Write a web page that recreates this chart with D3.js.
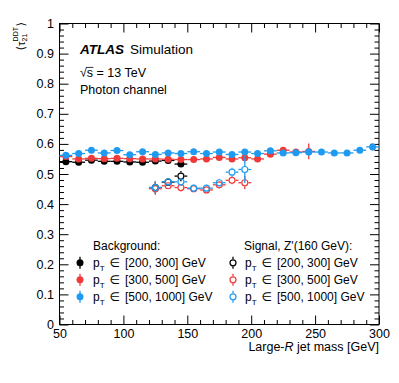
<!DOCTYPE html>
<html><head><meta charset="utf-8">
<script src="https://cdn.jsdelivr.net/npm/d3@7"></script>
<style>
html,body{margin:0;padding:0;background:#fff;}
text{font-family:"Liberation Sans","Arimo","DejaVu Sans",sans-serif;}
</style></head>
<body>
<svg id="c" width="399" height="383"></svg>
<script>
// ---------------- data ----------------
const bkgLowX  = [55,65,75,85,95,105,115,125,135,145];
const bkgLow   = [0.541,0.539,0.546,0.542,0.542,0.540,0.539,0.543,0.545,0.533];
const bkgLowE  = [0.003,0.003,0.003,0.003,0.003,0.003,0.003,0.003,0.003,0.006];

const bkgMidX  = [55,65,75,85,95,105,115,125,135,145,155,165,175,185,195,205,215,225,235,245];
const bkgMid   = [0.558,0.550,0.552,0.551,0.552,0.551,0.550,0.550,0.549,0.548,0.548,0.550,0.555,0.550,0.554,0.550,0.566,0.579,0.573,0.575];
const bkgMidE  = [0.003,0.003,0.003,0.003,0.003,0.003,0.003,0.003,0.003,0.003,0.003,0.003,0.003,0.003,0.004,0.004,0.006,0.011,0.008,0.026];

const bkgHighX = [55,65,75,85,95,105,115,125,135,145,155,165,175,185,195,205,215,225,235,245,255,265,275,285,295];
const bkgHigh  = [0.562,0.568,0.579,0.570,0.578,0.564,0.574,0.565,0.570,0.568,0.574,0.568,0.573,0.565,0.573,0.568,0.577,0.570,0.571,0.573,0.573,0.570,0.570,0.579,0.590];
const bkgHighE = [0.003,0.003,0.003,0.003,0.003,0.003,0.003,0.003,0.003,0.003,0.003,0.003,0.003,0.003,0.003,0.003,0.004,0.004,0.005,0.012,0.005,0.005,0.005,0.006,0.012];

const sigLowX  = [125,135,145];
const sigLow   = [0.455,0.473,0.493];
const sigLowE  = [0.020,0.013,0.017];

const sigMidX  = [125,135,145,155,165,175,185,195];
const sigMid   = [0.451,0.461,0.455,0.451,0.447,0.464,0.479,0.471];
const sigMidE  = [0.020,0.012,0.012,0.012,0.012,0.012,0.013,0.022];

const sigHighX = [125,135,145,155,165,175,185,195];
const sigHigh  = [0.455,0.474,0.474,0.453,0.453,0.471,0.506,0.515];
const sigHighE = [0.022,0.013,0.013,0.012,0.012,0.013,0.015,0.045];

const binHalfWidth = 5;
const xTicks = [50,100,150,200,250,300];
const yTicks = [0,0.1,0.2,0.3,0.4,0.5,0.6,0.7,0.8,0.9,1];

const legendBkgTitle = "Background:";
const legendSigTitle = "Signal, Z'(160 GeV):";
const legendRanges = ["[200, 300] GeV","[300, 500] GeV","[500, 1000] GeV"];

// ---------------- layout ----------------
const BLACK="#000000", RED="#f03a3a", BLUE="#1e9bf0";
const svg = d3.select("#c");
const L=59.5, R=379, T=23.5, B=324.5;
const x = d3.scaleLinear().domain([50,300]).range([L,R]);
const y = d3.scaleLinear().domain([0,1]).range([B,T]);

const minorX = d3.range(50,301,10).filter(v=>v%50!==0);
const minorY = d3.range(0,101,2).map(v=>v/100).filter(v=>Math.round(v*100)%10!==0);
const MAJ=9, MIN=4.5;
const fmtY = d=> (d===0||d===1)? String(d) : d.toFixed(1);

function axisGroup(axisGen, tr){
  const g = svg.append("g").attr("transform",tr).call(axisGen);
  g.select(".domain").remove();
  g.selectAll(".tick line").attr("stroke","#000").attr("stroke-width",1);
  return g;
}
// bottom
const gb = axisGroup(d3.axisBottom(x).tickValues(xTicks).tickSizeInner(-MAJ).tickSizeOuter(0).tickPadding(4.5), `translate(0,${B})`);
gb.selectAll("text").attr("font-size",12.5).attr("fill","#000").attr("font-family","Liberation Sans, Arimo, sans-serif");
axisGroup(d3.axisBottom(x).tickValues(minorX).tickSizeInner(-MIN).tickSizeOuter(0).tickFormat(""), `translate(0,${B})`);
// top
axisGroup(d3.axisTop(x).tickValues(xTicks).tickSizeInner(-MAJ).tickSizeOuter(0).tickFormat(""), `translate(0,${T})`);
axisGroup(d3.axisTop(x).tickValues(minorX).tickSizeInner(-MIN).tickSizeOuter(0).tickFormat(""), `translate(0,${T})`);
// left
const gl = axisGroup(d3.axisLeft(y).tickValues(yTicks).tickSizeInner(-MAJ).tickSizeOuter(0).tickPadding(5.5).tickFormat(fmtY), `translate(${L},0)`);
gl.selectAll("text").attr("font-size",12.5).attr("fill","#000").attr("font-family","Liberation Sans, Arimo, sans-serif");
axisGroup(d3.axisLeft(y).tickValues(minorY).tickSizeInner(-MIN).tickSizeOuter(0).tickFormat(""), `translate(${L},0)`);
// right
axisGroup(d3.axisRight(y).tickValues(yTicks).tickSizeInner(-MAJ).tickSizeOuter(0).tickFormat(""), `translate(${R},0)`);
axisGroup(d3.axisRight(y).tickValues(minorY).tickSizeInner(-MIN).tickSizeOuter(0).tickFormat(""), `translate(${R},0)`);

svg.append("rect").attr("x",L).attr("y",T).attr("width",R-L).attr("height",B-T)
  .attr("fill","none").attr("stroke","#000").attr("stroke-width",1);

// ---------------- series ----------------
const MR = 3.5;
function drawSeries(xs, vs, es, color, open){
  const data = xs.map((m,i)=>({m, v:vs[i], e:es[i]}));
  const g = svg.append("g");
  const segs = [];
  data.forEach(d=>{
    const cx=x(d.m), cy=y(d.v);
    const x0=x(d.m-binHalfWidth), x1=x(d.m+binHalfWidth);
    const yt=y(d.v+d.e), yb=y(d.v-d.e);
    if(open){
      segs.push([x0,cy,cx-MR,cy],[cx+MR,cy,x1,cy]);
      if(cy-yt>MR) segs.push([cx,yt,cx,cy-MR]);
      if(yb-cy>MR) segs.push([cx,cy+MR,cx,yb]);
    } else {
      segs.push([x0,cy,x1,cy]);
      segs.push([cx,yt,cx,yb]);
    }
  });
  g.selectAll("line").data(segs).join("line")
    .attr("x1",s=>s[0]).attr("y1",s=>s[1]).attr("x2",s=>s[2]).attr("y2",s=>s[3])
    .attr("stroke",color).attr("stroke-width",1.3);
  g.selectAll("circle").data(data).join("circle")
    .attr("cx",d=>x(d.m)).attr("cy",d=>y(d.v)).attr("r",open?MR-0.5:MR)
    .attr("fill",open?"none":color).attr("stroke",color).attr("stroke-width",open?1.2:0);
}
drawSeries(bkgLowX,bkgLow,bkgLowE,BLACK,false);
drawSeries(bkgMidX,bkgMid,bkgMidE,RED,false);
drawSeries(bkgHighX,bkgHigh,bkgHighE,BLUE,false);
drawSeries(sigLowX,sigLow,sigLowE,BLACK,true);
drawSeries(sigMidX,sigMid,sigMidE,RED,true);
drawSeries(sigHighX,sigHigh,sigHighE,BLUE,true);

// ---------------- labels ----------------
const atlas = svg.append("text").attr("x",80).attr("y",54).attr("font-size",13.5);
atlas.append("tspan").attr("font-weight","bold").attr("font-style","italic").text("ATLAS");
atlas.append("tspan").attr("dx",6).text("Simulation");

const sq = svg.append("text").attr("x",80).attr("y",77).attr("font-size",12.5).text("√s = 13 TeV");
{
  const n = sq.node();
  const p = n.getStartPositionOfChar(1), w = n.getSubStringLength(1,1);
  svg.append("line").attr("x1",p.x-0.5).attr("x2",p.x+w+0.3).attr("y1",77-9.6).attr("y2",77-9.6)
    .attr("stroke","#000").attr("stroke-width",0.8);
}
svg.append("text").attr("x",80).attr("y",94).attr("font-size",12.5).text("Photon channel");

// x title
const xt = svg.append("text").attr("x",R).attr("y",351).attr("text-anchor","end").attr("font-size",12.5);
xt.append("tspan").text("Large-");
xt.append("tspan").attr("font-style","italic").text("R");
xt.append("tspan").text(" jet mass [GeV]");

// y title (rotated)
const yg = svg.append("g");
const t1 = yg.append("text").attr("x",0).attr("y",0).attr("font-size",11.5).text("⟨τ");
const w1 = t1.node().getComputedTextLength();
const t2 = yg.append("text").attr("x",w1).attr("y",2.5).attr("font-size",7).text("21");
const t3 = yg.append("text").attr("x",w1).attr("y",-7).attr("font-size",7).text("DDT");
const w2 = Math.max(t2.node().getComputedTextLength(), t3.node().getComputedTextLength());
const t4 = yg.append("text").attr("x",w1+w2+0.5).attr("y",0).attr("font-size",11.5).text("⟩");
const wt = w1+w2+0.5+t4.node().getComputedTextLength();
yg.attr("transform",`translate(24.5,${22+wt}) rotate(-90)`);

// ---------------- legend ----------------
function legendRow(mx, tx, by, color, open, range){
  const cy = by-4.2;
  svg.append("line").attr("x1",mx).attr("x2",mx).attr("y1",cy-6).attr("y2",open?cy-MR:cy+6)
    .attr("stroke",color).attr("stroke-width",1.3);
  if(open) svg.append("line").attr("x1",mx).attr("x2",mx).attr("y1",cy+MR).attr("y2",cy+6)
    .attr("stroke",color).attr("stroke-width",1.3);
  svg.append("circle").attr("cx",mx).attr("cy",cy).attr("r",open?MR-0.5:MR)
    .attr("fill",open?"none":color).attr("stroke",color).attr("stroke-width",open?1.2:0);
  const t = svg.append("text").attr("x",tx).attr("y",by).attr("font-size",12);
  t.append("tspan").text("p");
  t.append("tspan").attr("font-size",8).attr("dy",3.5).text("T");
  t.append("tspan").attr("dy",-3.5).attr("dx",5).text("∈");
  t.append("tspan").attr("dx",5).text(range);
}
svg.append("text").attr("x",93).attr("y",250).attr("font-size",12).text(legendBkgTitle);
svg.append("text").attr("x",244).attr("y",250).attr("font-size",12).text(legendSigTitle);
const colors=[BLACK,RED,BLUE];
legendRanges.forEach((r,i)=>{
  legendRow(80,93,267+17*i,colors[i],false,r);
  legendRow(233,245,267+17*i,colors[i],true,r);
});
</script>
</body></html>
